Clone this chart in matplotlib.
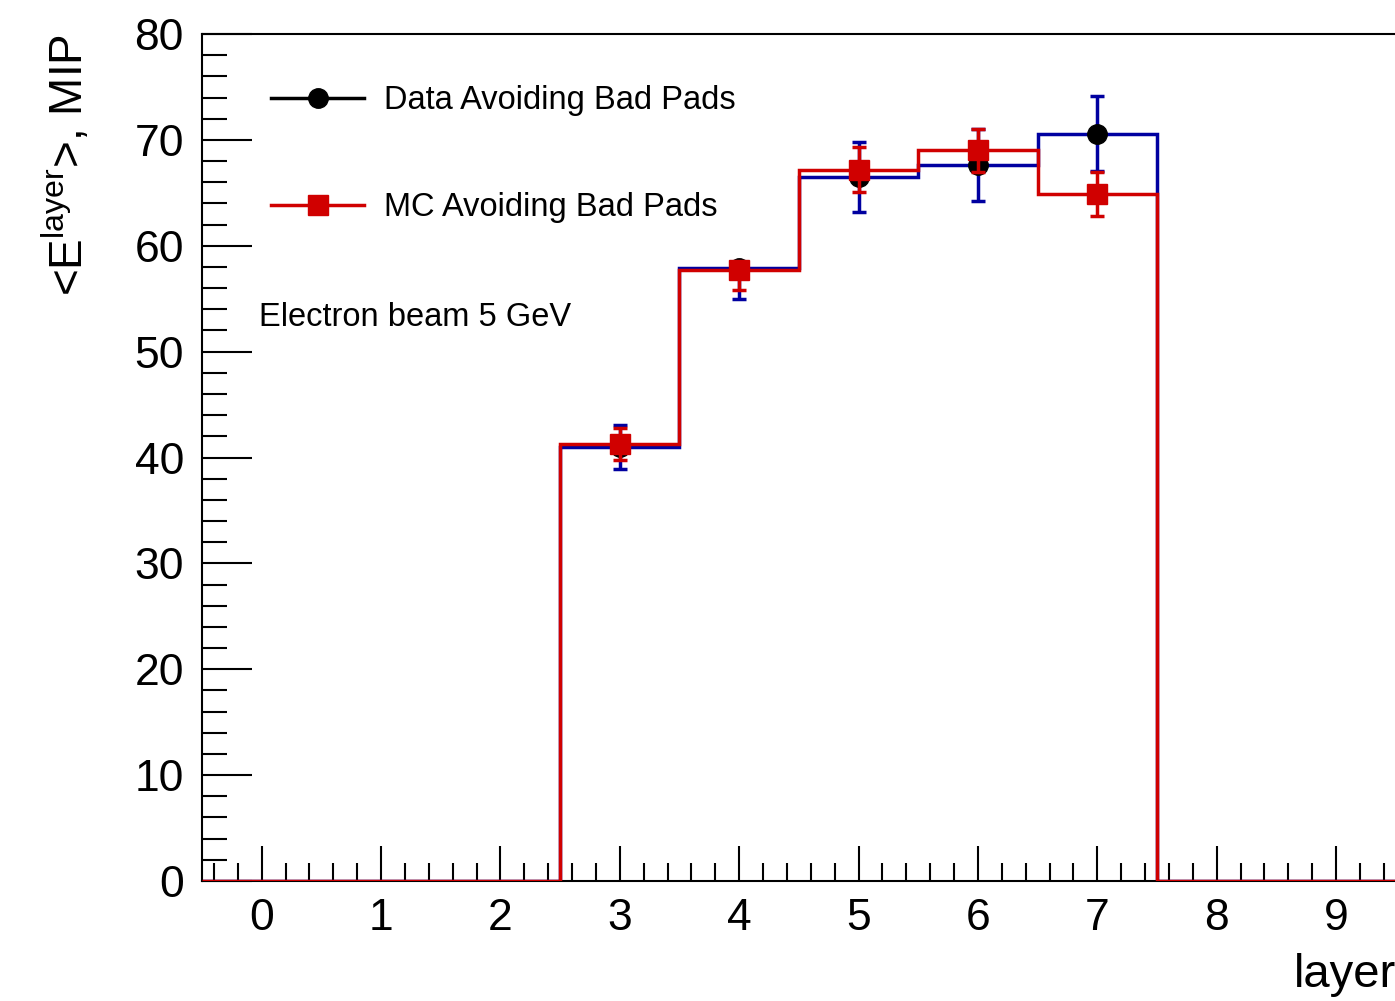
import numpy as np
import matplotlib
matplotlib.use("Agg")
import matplotlib.pyplot as plt
from matplotlib.lines import Line2D
from matplotlib.ticker import MultipleLocator

plt.rcParams['font.family'] = ['Liberation Sans', 'DejaVu Sans']

layers = np.arange(10)
data_vals = [0, 0, 0, 41.0, 57.9, 66.5, 67.6, 70.6, 0, 0]
data_err_low = [0, 0, 0, 2.05, 2.9, 3.3, 3.4, 3.55, 0, 0]
data_err_high = [0, 0, 0, 2.05, 0.0, 3.3, 3.4, 3.55, 0, 0]
mc_vals = [0, 0, 0, 41.3, 57.7, 67.2, 69.0, 64.9, 0, 0]
mc_err_low = [0, 0, 0, 1.5, 1.9, 2.15, 2.05, 2.05, 0, 0]
mc_err_high = [0, 0, 0, 1.5, 0.0, 2.15, 2.05, 2.05, 0, 0]
data_label = "Data Avoiding Bad Pads"
mc_label = "MC Avoiding Bad Pads"
note = "Electron beam 5 GeV"

blue = '#0000a0'
red = '#d00000'

W, H = 1395, 1001
fig = plt.figure(figsize=(W / 100, H / 100), dpi=100)
ax = fig.add_axes([202 / W, 1 - 881 / H, (W - 202) / W + 0.0005, (881 - 34) / H])

edges = np.append(layers - 0.5, layers[-1] + 0.5)
dv = np.array(data_vals)
mv = np.array(mc_vals)
dm = dv > 0
mm = mv > 0
d_err = np.array([data_err_low, data_err_high])[:, dm]
m_err = np.array([mc_err_low, mc_err_high])[:, mm]

lw = 2.5
ax.stairs(dv, edges, color=blue, lw=lw, baseline=None, zorder=2)
ax.errorbar(layers[dm], dv[dm], yerr=d_err, fmt='none', ecolor=blue, elinewidth=lw,
            capsize=5, capthick=lw, zorder=3)
ax.plot(layers[dm], dv[dm], 'o', color='black', ms=14, zorder=4)

ax.stairs(mv, edges, color=red, lw=lw, baseline=None, zorder=5)
ax.errorbar(layers[mm], mv[mm], yerr=m_err, fmt='none', ecolor=red, elinewidth=lw,
            capsize=5, capthick=lw, zorder=6)
ax.plot(layers[mm], mv[mm], 's', color=red, ms=15, zorder=7)

ax.set_xlim(-0.5, 9.5)
ax.set_ylim(0, 80)
ax.xaxis.set_major_locator(MultipleLocator(1))
ax.xaxis.set_minor_locator(MultipleLocator(0.2))
ax.yaxis.set_major_locator(MultipleLocator(10))
ax.yaxis.set_minor_locator(MultipleLocator(2))
ax.tick_params(axis='x', which='major', direction='in', length=25, width=1.5, labelsize=32, pad=12)
ax.tick_params(axis='x', which='minor', direction='in', length=13, width=1.5)
ax.tick_params(axis='y', which='major', direction='in', length=36, width=1.5, labelsize=32, pad=13)
ax.tick_params(axis='y', which='minor', direction='in', length=18, width=1.5)
for s in ['left', 'bottom', 'top']:
    ax.spines[s].set_linewidth(1.5)
ax.spines['right'].set_visible(False)

ax.set_xlabel('layer', fontsize=34, loc='right')
ax.xaxis.set_label_coords(1.0, -0.0855)
ax.set_ylabel(r'<E$^{\mathregular{layer}}$>, MIP', fontsize=33, loc='top')
ax.yaxis.set_label_coords(-0.091, 1.0)

handles = [Line2D([], [], color='black', lw=2.5, marker='o', ms=14),
           Line2D([], [], color=red, lw=2.5, marker='s', ms=15)]
fig.legend(handles, [data_label, mc_label], loc='upper left',
           bbox_to_anchor=(271 / W, 1 - 85 / H), frameon=False, fontsize=23.5,
           handlelength=2.85, handletextpad=0.62, labelspacing=2.33,
           borderpad=0, borderaxespad=0, numpoints=1)

fig.text(259 / W, 1 - 318 / H, note, fontsize=23.5, va='center', ha='left')

fig.savefig('out.png', dpi=100)
